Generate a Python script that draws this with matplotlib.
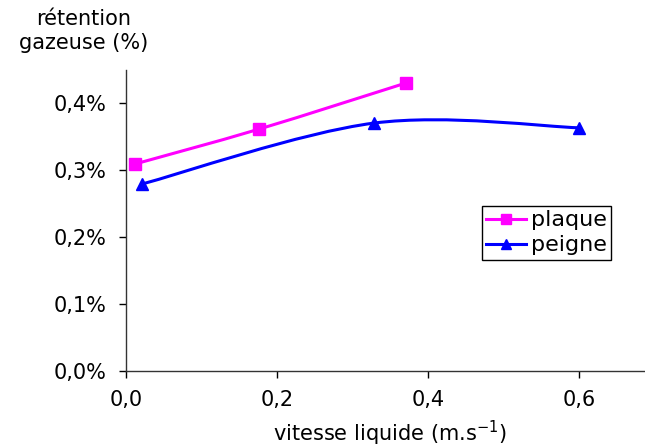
import matplotlib
matplotlib.use("Agg")
import matplotlib.pyplot as plt
from matplotlib.path import Path
from matplotlib.patches import PathPatch
from matplotlib.ticker import FuncFormatter
from matplotlib.lines import Line2D

plt.rcParams['font.family'] = ['DejaVu Sans']
plt.rcParams['mathtext.default'] = 'regular'
FS = 15

# données
plaque_x = [0.012, 0.176, 0.371]
plaque_y = [0.309, 0.361, 0.430]
peigne_x = [0.021, 0.328, 0.600]
peigne_y = [0.279, 0.370, 0.363]

x_ticks = [0.0, 0.2, 0.4, 0.6]
y_ticks = [0.0, 0.1, 0.2, 0.3, 0.4]

MAGENTA = '#FF00FF'
BLUE = '#0000FF'


def smooth_path(xs, ys):
    # courbe lissée type Excel (Catmull-Rom -> Bézier)
    pts = list(zip(xs, ys))
    verts = [pts[0]]
    codes = [Path.MOVETO]
    n = len(pts)
    for i in range(n - 1):
        p0 = pts[i - 1] if i > 0 else pts[i]
        p1 = pts[i]
        p2 = pts[i + 1]
        p3 = pts[i + 2] if i + 2 < n else pts[i + 1]
        c1 = (p1[0] + (p2[0] - p0[0]) / 6, p1[1] + (p2[1] - p0[1]) / 6)
        c2 = (p2[0] - (p3[0] - p1[0]) / 6, p2[1] - (p3[1] - p1[1]) / 6)
        verts += [c1, c2, p2]
        codes += [Path.CURVE4] * 3
    return Path(verts, codes)


fig = plt.figure(figsize=(6.45, 4.47), dpi=100)
ax = fig.add_axes([0.1953, 0.170, 0.8047, 0.6745])

for xs, ys, col, mk, ms in [(plaque_x, plaque_y, MAGENTA, 's', 9),
                            (peigne_x, peigne_y, BLUE, '^', 9)]:
    ax.add_patch(PathPatch(smooth_path(xs, ys), facecolor='none',
                           edgecolor=col, lw=2.2, zorder=2))
    ax.plot(xs, ys, linestyle='none', marker=mk, color=col,
            markersize=ms, zorder=3)

ax.set_xlim(0, 0.687)
ax.set_ylim(0, 0.45)
ax.set_xticks(x_ticks)
ax.set_yticks(y_ticks)
ax.xaxis.set_major_formatter(FuncFormatter(lambda v, p: f'{v:.1f}'.replace('.', ',')))
ax.yaxis.set_major_formatter(FuncFormatter(lambda v, p: f'{v:.1f}%'.replace('.', ',')))
ax.tick_params(direction='out', length=5, width=1, colors='black', labelsize=FS, pad=9)
ax.tick_params(axis='x', pad=9)
for s in ['top', 'right']:
    ax.spines[s].set_visible(False)
for s in ['left', 'bottom']:
    ax.spines[s].set_color('#333333')
    ax.spines[s].set_linewidth(1)

fig.text(84 / 645, 1 - 19 / 447, 'rétention', ha='center', va='center', fontsize=FS)
fig.text(84 / 645, 1 - 43 / 447, 'gazeuse (%)', ha='center', va='center', fontsize=FS)
fig.text(390 / 645, 1 - 433 / 447, 'vitesse liquide (m.s$^{-1}$)',
         ha='center', va='center', fontsize=FS)

handles = [Line2D([], [], color=MAGENTA, lw=2.2, marker='s', markersize=7),
           Line2D([], [], color=BLUE, lw=2.2, marker='^', markersize=7)]
leg = fig.legend(handles, ['plaque', 'peigne'], loc='upper left',
                 bbox_to_anchor=(482 / 645, 1 - 206 / 447),
                 frameon=True, fancybox=False, framealpha=1,
                 edgecolor='black', borderpad=0.2, labelspacing=0.22,
                 handlelength=1.8, handletextpad=0.2, borderaxespad=0,
                 fontsize=16)
leg.get_frame().set_linewidth(1)

fig.savefig('out.png', dpi=100)
